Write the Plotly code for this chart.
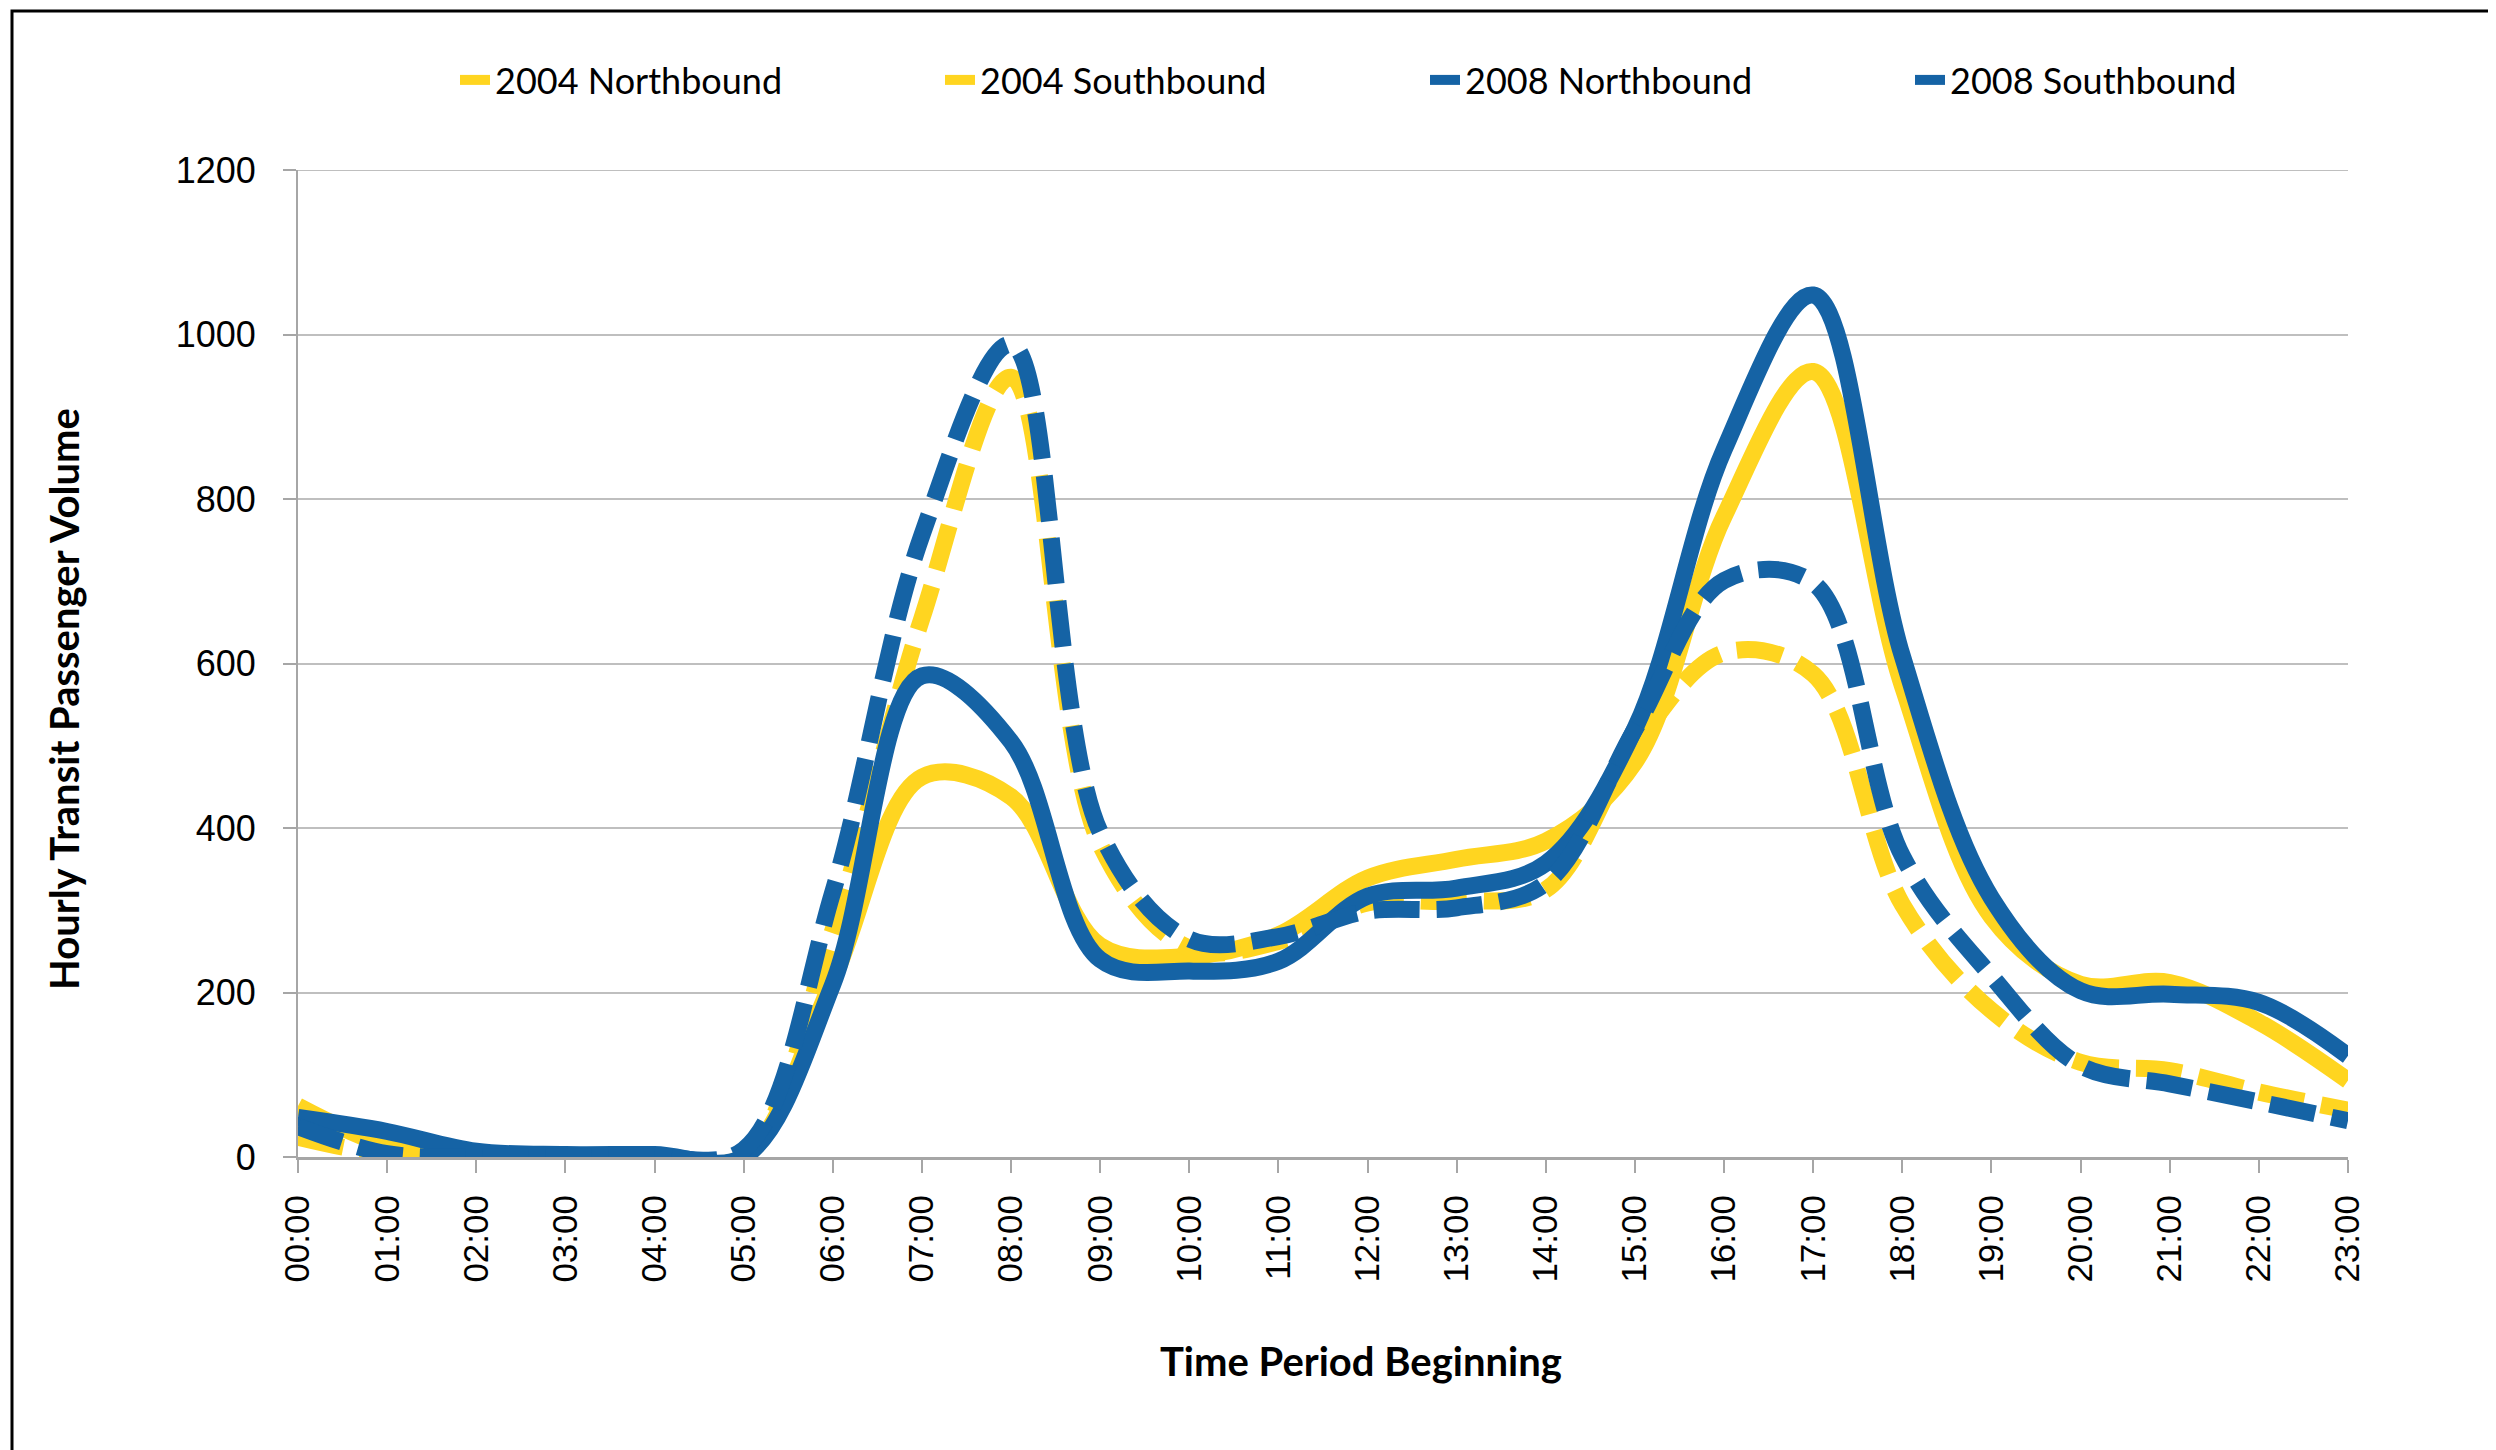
import plotly.graph_objects as go

hours = ["00:00", "01:00", "02:00", "03:00", "04:00", "05:00", "06:00", "07:00",
         "08:00", "09:00", "10:00", "11:00", "12:00", "13:00", "14:00", "15:00",
         "16:00", "17:00", "18:00", "19:00", "20:00", "21:00", "22:00", "23:00"]

nb_2004 = [62, 14, 0, 0, 0, 0, 215, 462, 438, 257, 244, 270, 339, 362, 384, 480,
           779, 955, 573, 292, 210, 212, 164, 93]
sb_2004 = [24, 3, 0, 0, 0, 0, 275, 655, 948, 380, 254, 262, 309, 311, 325, 500,
           613, 587, 307, 178, 115, 105, 79, 57]
nb_2008 = [48, 31, 7, 3, 3, 0, 210, 585, 505, 240, 226, 238, 317, 327, 357, 521,
           860, 1048, 609, 315, 202, 198, 188, 123]
sb_2008 = [37, 4, 0, 0, 0, 9, 322, 756, 988, 395, 265, 268, 299, 303, 333, 520,
           701, 698, 366, 220, 111, 89, 67, 44]

y_max = 1200
y_step = 200

series = [
    ("2004 Northbound", nb_2004, "#FFD520", "solid"),
    ("2004 Southbound", sb_2004, "#FFD520", "46px,17px"),
    ("2008 Northbound", nb_2008, "#1563A5", "solid"),
    ("2008 Southbound", sb_2008, "#1563A5", "46px,17px"),
]

x_idx = list(range(len(hours)))

fig = go.Figure()
for name, vals, color, dash in series:
    fig.add_trace(go.Scatter(
        x=x_idx, y=vals, name=name, mode="lines",
        line=dict(color=color, width=17, dash=dash, shape="spline", smoothing=1.0),
    ))

FONT = "Lato"
TICKFONT = "Liberation Sans"
# the page body adds an 8px offset, so the figure is 8px smaller and shifted
OFF = 8
W, H = 2496 - OFF, 1450 - OFF
L, R, T, B = 298 - OFF, 148, 170 - OFF, 293
pw = W - L - R
ph = H - T - B


def px_x(px):
    return (px - OFF - L) / pw


def px_y(py):
    return (H - B - (py - OFF)) / ph


fig.update_layout(
    width=W, height=H, autosize=False,
    margin=dict(l=L, r=R, t=T, b=B),
    paper_bgcolor="white", plot_bgcolor="white",
    font=dict(family=FONT, color="black"),
    showlegend=True,
    legend=dict(
        orientation="h", x=0.5 + 102 / pw, xanchor="center", y=px_y(80), yanchor="middle",
        font=dict(family=FONT, size=36, color="black"),
        entrywidth=440, entrywidthmode="pixels",
        bgcolor="rgba(0,0,0,0)",
    ),
    xaxis=dict(
        range=[0, 23], tickmode="array", tickvals=x_idx, ticktext=hours,
        tickangle=-90, tickfont=dict(family=TICKFONT, size=35, color="black"),
        showgrid=False, zeroline=False,
        showline=True, linecolor="#A6A6A6", linewidth=3,
        ticks="outside", ticklen=13, tickwidth=2, tickcolor="#A6A6A6",
        ticklabelstandoff=8,
    ),
    yaxis=dict(
        range=[0, y_max], dtick=y_step, tick0=0,
        tickfont=dict(family=TICKFONT, size=36, color="black"),
        showgrid=True, gridcolor="#BFBFBF", gridwidth=2, zeroline=False,
        showline=True, linecolor="#A6A6A6", linewidth=2,
        ticks="outside", ticklen=13, tickwidth=2, tickcolor="#A6A6A6",
        ticklabelstandoff=20,
    ),
    annotations=[
        dict(text="<b>Time Period Beginning</b>", xref="paper", yref="paper",
             x=px_x(1361), y=px_y(1361), xanchor="center", yanchor="middle",
             showarrow=False, font=dict(family=FONT, size=40, color="black")),
        dict(text="<b>Hourly Transit Passenger Volume</b>", xref="paper", yref="paper",
             x=px_x(64), y=px_y(699), xanchor="center", yanchor="middle", textangle=-90,
             showarrow=False, font=dict(family=FONT, size=40, color="black")),
    ],
    shapes=[
        dict(type="line", xref="paper", yref="y", x0=0, x1=1, y0=y_max, y1=y_max,
             line=dict(color="#BFBFBF", width=2), layer="below"),
        dict(type="rect", xref="paper", yref="paper",
             x0=px_x(12), x1=1.3, y0=-0.6, y1=px_y(11),
             line=dict(color="black", width=3), fillcolor="rgba(0,0,0,0)", layer="above"),
    ],
)

fig.write_html("out.html")
